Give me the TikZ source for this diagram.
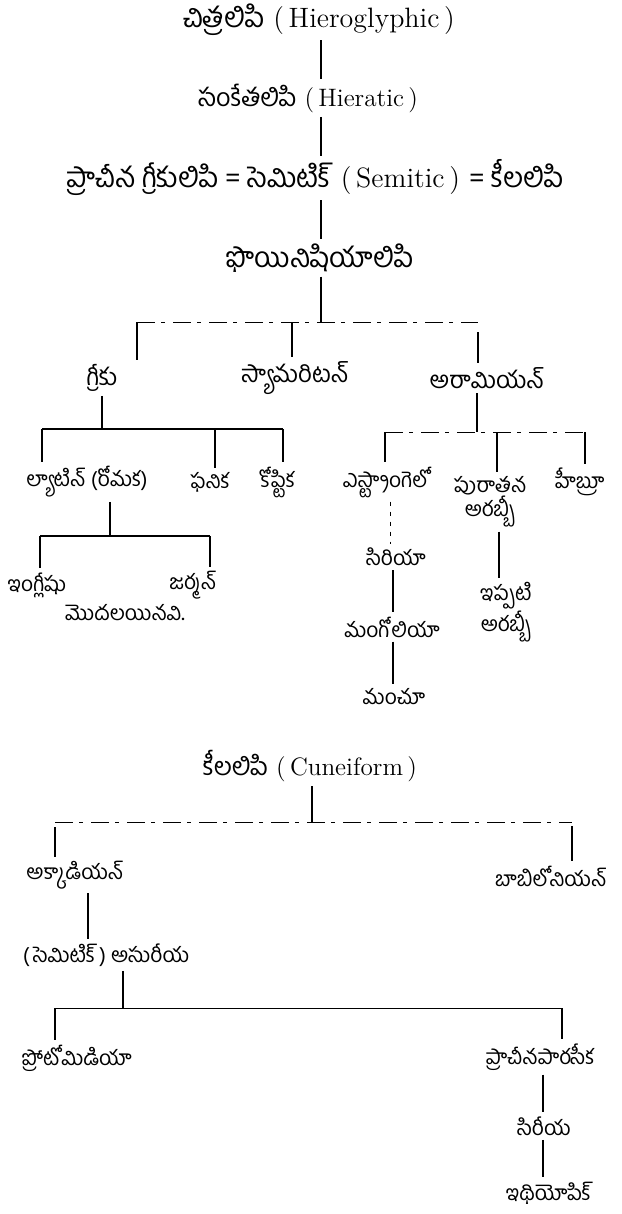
\documentclass[tikz,border=0pt]{standalone}
\usepackage{fontspec}
\newfontfamily\tel[Script=Telugu]{Hind Guntur}
\usetikzlibrary{positioning}

\tikzset{
	top/.style={font=\fontsize{12.6}{14}\selectfont, inner sep=2pt},
	topbig/.style={font=\fontsize{14}{16}\selectfont, inner sep=2pt},
	lbl/.style={font=\tel\fontsize{12}{14}\selectfont, inner sep=2pt},
	sml/.style={font=\tel\fontsize{10.5}{12}\selectfont, inner sep=2pt},
	stem/.style={line width=0.6pt},
	bar/.style={line width=0.4pt, dash pattern=on 9pt off 3pt on 2pt off 4pt},
	faint/.style={line width=0.4pt, dash pattern=on 2pt off 3pt}
}

\begin{document}
\begin{tikzpicture}[x=0.5pt, y=-0.5pt]
	\useasboundingbox (0,0) rectangle (621,1214);
	% మొదటి చెట్టు
	\node[topbig] (hiero) at (319,20) {{\tel చిత్రలిపి} (\,Hieroglyphic\,)};
	\node[top] (hier) at (308,98) {{\tel సంకేతలిపి} (\,Hieratic\,)};
	\node[topbig] (sem) at (315,178) {{\tel ప్రాచీన గ్రీకులిపి = సెమిటిక్} (\,Semitic\,) {\tel = కీలలిపి}};
	\node[lbl, font=\tel\fontsize{14}{16}\selectfont] (phoen) at (320,258) {ఫొయినిషియాలిపి};
	\coordinate (tr) at (321,0);
	\draw[stem] (tr |- hiero.south) -- (tr |- hier.north);
	\draw[stem] (tr |- hier.south) -- (tr |- sem.north);
	\draw[stem] (tr |- sem.south) -- (tr |- phoen.north);
	% మూడు శాఖలు
	\node[lbl] (grk) at (102,378) {గ్రీకు};
	\node[lbl] (sam) at (295,378) {స్యామరిటన్};
	\node[lbl] (arm) at (487,378) {అరామియన్};
	\coordinate (pb1) at (137,322);
	\coordinate (pb2) at (292,322);
	\coordinate (pb3) at (478,322);
	\draw[stem] (tr |- phoen.south) -- (tr |- pb1);
	\draw[bar] (pb1) -- (pb3);
	\draw[stem] (pb1) -- (pb1 |- grk.north);
	\draw[stem] (pb2) -- (pb2 |- sam.north);
	\draw[stem] (pb3) ++(0,10) -- (pb3 |- arm.north);
	% గ్రీకు
	\node[sml] (lat) at (87,482) {ల్యాటిన్ (రోమక)};
	\node[sml] (fan) at (210,482) {ఫనిక};
	\node[sml] (copt) at (277,482) {కోప్టిక};
	\coordinate (gb1) at (42,429);
	\coordinate (gb2) at (215,429);
	\coordinate (gb3) at (283,429);
	\draw[stem] (grk.south) -- (grk.south |- gb1);
	\draw[stem] (gb1) -- (gb3);
	\draw[stem] (gb1) -- (gb1 |- lat.north);
	\draw[stem] (gb2) -- (gb2 |- fan.north);
	\draw[stem] (gb3) -- (gb3 |- copt.north);
	\node[sml] (eng) at (37,585) {ఇంగ్లీషు};
	\node[sml] (ger) at (193,585) {జర్మన్};
	\node[sml] (etc) at (125,613) {మొదలయినవి.};
	\coordinate (lt) at (110,536);
	\coordinate (lb1) at (40,536);
	\coordinate (lb2) at (210,536);
	\draw[stem] (lt |- lat.south) -- (lt);
	\draw[stem] (lb1) -- (lb2);
	\draw[stem] (lb1) -- (lb1 |- eng.north);
	\draw[stem] (lb2) -- (lb2 |- ger.north);
	% అరామియన్
	\node[sml] (estr) at (386,482) {ఎస్ట్రాంగెలో};
	\node[sml, align=center] (oar) at (490,502) {పురాతన\\అరబ్బీ};
	\node[sml] (heb) at (580,482) {హీబ్రూ};
	\coordinate (ab0) at (477,432);
	\coordinate (ab1) at (385,432);
	\coordinate (ab2) at (497,432);
	\coordinate (ab3) at (585,432);
	\draw[stem] (ab0 |- arm.south) -- (ab0);
	\draw[bar] (ab1) -- (ab3);
	\draw[stem] (ab1) -- (ab1 |- estr.north);
	\draw[stem] (ab2) -- (ab2 |- oar.north);
	\draw[stem] (ab3) -- (ab3 |- heb.north);
	\node[sml] (syr) at (396,557) {సిరియా};
	\node[sml] (mong) at (392,627) {మంగోలియా};
	\node[sml] (manc) at (394,697) {మంచూ};
	\node[sml, align=center] (nar) at (506,612) {ఇప్పటి\\అరబ్బీ};
	\coordinate (sx) at (390,0);
	\coordinate (mx) at (393,0);
	\draw[faint] (sx |- estr.south) -- (sx |- syr.north);
	\draw[stem] (mx |- syr.south) -- (mx |- mong.north);
	\draw[stem] (mx |- mong.south) -- (mx |- manc.north);
	\coordinate (ax) at (499,0);
	\draw[stem] (ax |- oar.south) -- (ax |- nar.north);
	% రెండవ చెట్టు
	\node[top] (cun) at (310,766) {{\tel కీలలిపి} (\,Cuneiform\,)};
	\node[sml] (akk) at (75,875) {అక్కాడియన్};
	\node[sml] (bab) at (551,876) {బాబిలోనియన్};
	\coordinate (cb0) at (312,822);
	\coordinate (cb1) at (55,822);
	\coordinate (cb2) at (572,822);
	\draw[stem] (cb0 |- cun.south) -- (cb0);
	\draw[bar] (cb1) -- (cb2);
	\draw[stem] (cb1) ++(0,5) -- (cb1 |- akk.north);
	\draw[stem] (cb2) ++(0,4) -- (cb2 |- bab.north);
	\node[sml] (asy) at (106,955) {(\,సెమిటిక్\,) అసురీయ};
	\coordinate (ak) at (88,0);
	\draw[stem] (ak |- akk.south) -- (ak |- asy.north);
	\node[sml] (prot) at (77,1058) {ప్రోటోమిడియా};
	\node[sml] (pers) at (540,1057) {ప్రాచీనపారసీక};
	\coordinate (sb0) at (123,1008);
	\coordinate (sb1) at (55,1008);
	\coordinate (sb2) at (562,1008);
	\draw[stem] (sb0 |- asy.south) -- (sb0);
	\draw[line width=0.5pt] (sb1) -- (sb2);
	\draw[stem] (sb1) -- (sb1 |- prot.north);
	\draw[stem] (sb2) -- (sb2 |- pers.north);
	\node[sml] (syr2) at (544,1126) {సిరీయ};
	\node[sml] (eth) at (549,1193) {ఇథియోపిక్};
	\coordinate (px) at (543,0);
	\draw[stem] (px |- pers.south) -- (px |- syr2.north);
	\draw[stem] (px |- syr2.south) -- (px |- eth.north);
\end{tikzpicture}
\end{document}
